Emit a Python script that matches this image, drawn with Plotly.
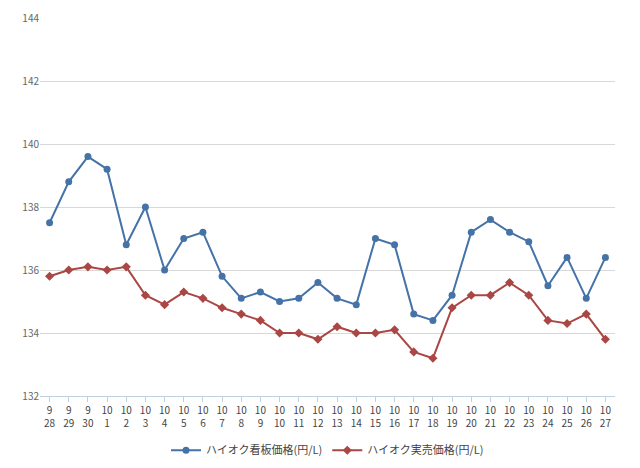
import plotly.graph_objects as go

dates = ["9<br>28","9<br>29","9<br>30"] + [f"10<br>{d}" for d in range(1,28)]
kanban = [137.5,138.8,139.6,139.2,136.8,138.0,136.0,137.0,137.2,135.8,135.1,135.3,135.0,135.1,135.6,135.1,134.9,137.0,136.8,134.6,134.4,135.2,137.2,137.6,137.2,136.9,135.5,136.4,135.1,136.4]
jitsubai = [135.8,136.0,136.1,136.0,136.1,135.2,134.9,135.3,135.1,134.8,134.6,134.4,134.0,134.0,133.8,134.2,134.0,134.0,134.1,133.4,133.2,134.8,135.2,135.2,135.6,135.2,134.4,134.3,134.6,133.8]

fig = go.Figure()
fig.add_trace(go.Scatter(x=dates, y=kanban, mode="lines+markers", name="ハイオク看板価格(円/L)",
    line=dict(color="#4572A7", width=2), marker=dict(size=7, color="#4572A7")))
fig.add_trace(go.Scatter(x=dates, y=jitsubai, mode="lines+markers", name="ハイオク実売価格(円/L)",
    line=dict(color="#AA4643", width=2), marker=dict(size=7, symbol="diamond", color="#AA4643")))
fig.update_layout(width=640, height=468, plot_bgcolor="white", paper_bgcolor="white",
    margin=dict(l=32, r=33, t=10, b=80, autoexpand=False),
    font=dict(family="Noto Sans CJK JP", size=10, color="#444"),
    legend=dict(orientation="h", x=0.5, xanchor="center", y=-0.105, yanchor="top", font=dict(size=11)),
    showlegend=True)
fig.update_xaxes(showgrid=False, showline=True, linecolor="#C0D0E0", ticks="outside", tickcolor="#C0D0E0",
    tickangle=0, range=[-0.5, 29.5], automargin=False)
fig.update_yaxes(range=[132,144], dtick=2, showgrid=True, gridcolor="#D8D8D8", zeroline=False,
    showline=False, tickfont=dict(color="#666"), automargin=False)
fig.write_html("out.html")
